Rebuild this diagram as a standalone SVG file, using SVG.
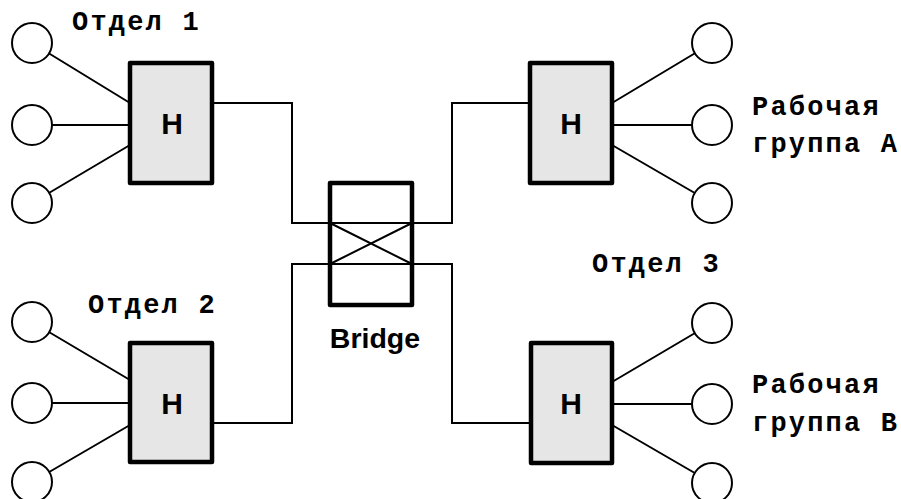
<svg xmlns="http://www.w3.org/2000/svg" width="901" height="499" viewBox="0 0 901 499">
<style>
.bg{fill:#ffffff}
.wire{fill:none;stroke:#000;stroke-width:2}
.pc{fill:#fff;stroke:#000;stroke-width:2}
.hub{fill:#e6e6e6;stroke:#000;stroke-width:4.5;stroke-linejoin:round}
.br{fill:none;stroke:#000;stroke-width:4.5;stroke-linejoin:round}
.h{font-family:"Liberation Sans",Arial,sans-serif;font-weight:bold;font-size:30px;text-anchor:middle;fill:#000}
.bt{font-family:"Liberation Sans",Arial,sans-serif;font-weight:bold;font-size:28.5px;text-anchor:middle;fill:#000}
.lbl{font-family:"Liberation Mono","Courier New",monospace;font-weight:bold;font-size:27px;letter-spacing:2.2px;fill:#000}
</style>
<rect class="bg" x="0" y="0" width="901" height="499"/>
<g id="connectors">
<path class="wire" d="M212,103 H292 V223 H452 V103 H530"/>
<path class="wire" d="M212,423 H292 V264 H452 V423 H531"/>
<path class="wire" d="M330,223 L412,264 M330,264 L412,223"/>
<path class="wire" d="M32,43 L130,103 M32,125 H130 M32,203 L130,145"/>
<path class="wire" d="M32,322 L130,380 M32,403 H130 M32,482 L130,425"/>
<path class="wire" d="M712,43 L612,103 M712,125 H612 M712,203 L612,145"/>
<path class="wire" d="M712,323 L612,382 M712,404 H612 M712,483 L612,425"/>
</g>
<g id="bridge">
<rect class="br" x="330" y="183" width="82" height="122"/>
<text class="bt" x="375" y="348">Bridge</text>
</g>
<g id="hub1">
<rect class="hub" x="130" y="63" width="82" height="120"/>
<text class="h" x="172" y="134">H</text>
</g>
<g id="hub2">
<rect class="hub" x="130" y="343" width="82" height="119"/>
<text class="h" x="172" y="414">H</text>
</g>
<g id="hub3">
<rect class="hub" x="530" y="63" width="82" height="120"/>
<text class="h" x="571" y="134">H</text>
</g>
<g id="hub4">
<rect class="hub" x="531" y="343" width="81" height="120"/>
<text class="h" x="571" y="414">H</text>
</g>
<g id="pcs1">
<circle class="pc" cx="32" cy="43" r="20"/>
<circle class="pc" cx="32" cy="125" r="20"/>
<circle class="pc" cx="32" cy="203" r="20"/>
</g>
<g id="pcs2">
<circle class="pc" cx="32" cy="322" r="20"/>
<circle class="pc" cx="32" cy="403" r="20"/>
<circle class="pc" cx="32" cy="482" r="20"/>
</g>
<g id="pcs3">
<circle class="pc" cx="712" cy="43" r="20"/>
<circle class="pc" cx="712" cy="125" r="20"/>
<circle class="pc" cx="712" cy="203" r="20"/>
</g>
<g id="pcs4">
<circle class="pc" cx="712" cy="323" r="20"/>
<circle class="pc" cx="712" cy="404" r="20"/>
<circle class="pc" cx="712" cy="483" r="20"/>
</g>
<g id="labels">
<text class="lbl" x="72" y="30">Отдел 1</text>
<text class="lbl" x="88" y="313">Отдел 2</text>
<text class="lbl" x="592" y="272">Отдел 3</text>
<text class="lbl" x="752" y="115">Рабочая</text>
<text class="lbl" x="752" y="152">группа А</text>
<text class="lbl" x="752" y="393">Рабочая</text>
<text class="lbl" x="752" y="431">группа В</text>
</g>
</svg>
